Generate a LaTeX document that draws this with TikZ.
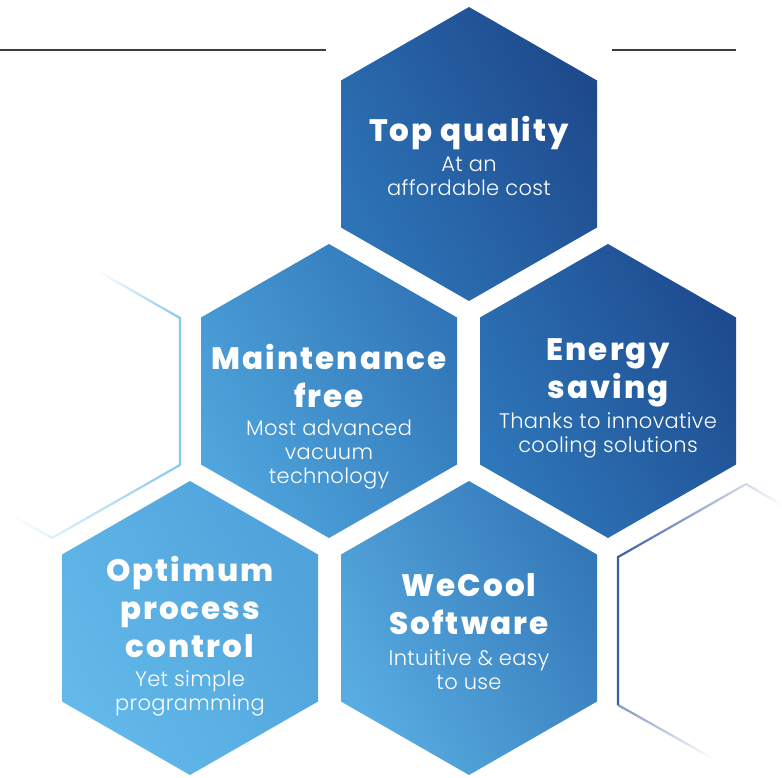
\documentclass[tikz,border=0pt]{standalone}
\usepackage{fontspec}
\setmainfont{Poppins}
\newfontfamily\poplight{Poppins Light}[LetterSpace=1.5]
\newfontfamily\popheavy{Poppins ExtraBold}[LetterSpace=6.5]
\usetikzlibrary{fadings}
\definecolor{paleline}{HTML}{86C7EC}
\definecolor{deepline}{HTML}{3A5EA2}
\definecolor{rulegray}{HTML}{3C3C3C}
\definecolor{qualitylo}{HTML}{2D74B7}
\definecolor{qualityhi}{HTML}{1E4A8D}
\definecolor{maintlo}{HTML}{4FA5DC}
\definecolor{mainthi}{HTML}{3176B8}
\definecolor{energylo}{HTML}{2E77BA}
\definecolor{energyhi}{HTML}{1E4B8F}
\definecolor{processlo}{HTML}{63B9EA}
\definecolor{processhi}{HTML}{4FA2DA}
\definecolor{wecoollo}{HTML}{58ACE1}
\definecolor{wecoolhi}{HTML}{3478B9}
\tikzfading[name=fadein, left color=transparent!100, right color=transparent!0]
\tikzfading[name=fadeout, left color=transparent!0, right color=transparent!100]
\tikzfading[name=fadesoft, left color=transparent!100, middle color=transparent!30, right color=transparent!0]
\tikzfading[name=fadetail, left color=transparent!35, right color=transparent!100]
\newcommand\hexpath[1]{([shift={(0,-147)}]#1) -- ([shift={(128,-73.5)}]#1) -- ([shift={(128,73.5)}]#1) -- ([shift={(0,147)}]#1) -- ([shift={(-128,73.5)}]#1) -- ([shift={(-128,-73.5)}]#1) -- cycle}
\begin{document}
\begin{tikzpicture}[x=1pt,y=-1pt,
	hextitle/.style={font=\popheavy\fontsize{31}{38}\selectfont, text=white, align=center, anchor=base, inner sep=0pt},
	hexsub/.style={font=\poplight\fontsize{21}{24}\selectfont, text=white, align=center, anchor=base, inner sep=0pt},
	hexfill/.style={bottom color=#1lo, top color=#1hi, shading angle=-60}]
	\useasboundingbox (0,0) rectangle (782,778);
	\coordinate (quality) at (469,154);
	\coordinate (maint) at (329,391);
	\coordinate (energy) at (608,391);
	\coordinate (process) at (190,628);
	\coordinate (wecool) at (469,628);
	\draw[rulegray, line width=2pt] (0,50) -- (326,50) (612,50) -- (736,50);
	\draw[paleline, line width=2.2pt, path fading=fadein] (98,271) -- (180,318) -- (180,465);
	\draw[paleline, line width=2.2pt, path fading=fadesoft] (180,465) -- (52,538) -- (8,513);
	\draw[deepline, line width=2.2pt, path fading=fadeout] (782,505) -- (746,484) -- (618,557) -- (618,705);
	\draw[deepline, line width=2.2pt, path fading=fadetail] (618,705) -- (712,758);
	\shade[hexfill=quality] \hexpath{quality};
	\shade[hexfill=maint] \hexpath{maint};
	\shade[hexfill=energy] \hexpath{energy};
	\shade[hexfill=process] \hexpath{process};
	\shade[hexfill=wecool] \hexpath{wecool};
	\node[hextitle] (quality-t) at (469,142) {Top quality};
	\node[hexsub] (quality-s) at (469,196) {At an\\affordable cost};
	\node[hextitle] (maint-t) at (329,407) {Maintenance\\free};
	\node[hexsub] (maint-s) at (329,483) {Most advanced\\vacuum\\technology};
	\node[hextitle] (energy-t) at (608,398) {Energy\\saving};
	\node[hexsub] (energy-s) at (608,452) {Thanks to innovative\\cooling solutions};
	\node[hextitle] (process-t) at (190,657) {Optimum\\process\\control};
	\node[hexsub] (process-s) at (190,710) {Yet simple\\programming};
	\node[hextitle] (wecool-t) at (469,634) {WeCool\\Software};
	\node[hexsub] (wecool-s) at (469,689) {Intuitive \& easy\\to use};
\end{tikzpicture}
\end{document}
